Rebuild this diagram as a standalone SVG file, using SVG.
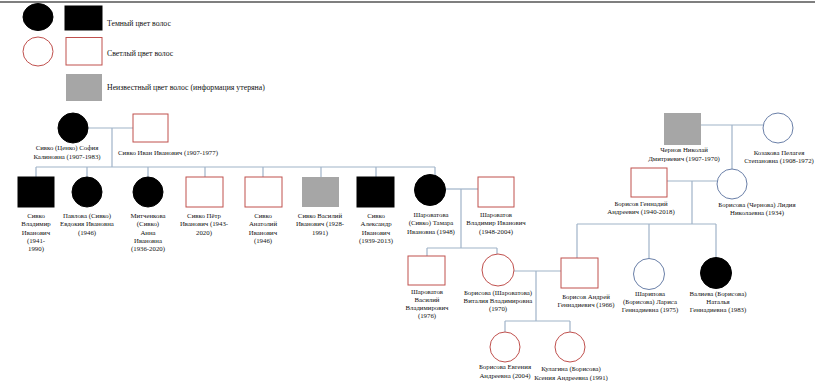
<svg xmlns="http://www.w3.org/2000/svg" width="815" height="381" viewBox="0 0 815 381">
<style>
.dark{fill:#000;stroke:#000;stroke-width:1}
.light{fill:#fff;stroke:#c0504d;stroke-width:1}
.blue{fill:#fff;stroke:#6a7fa8;stroke-width:1}
.unk{fill:#a6a6a6;stroke:none}
.conn line{stroke:#9fb3c8;stroke-width:1.2}
text{font-family:"Liberation Serif","Times New Roman",serif;font-size:6.8px;fill:#111;text-anchor:middle}
.leg{font-size:7.8px;text-anchor:start}
</style>
<rect width="815" height="381" fill="#fff"/>
<line x1="0" y1="2" x2="815" y2="2" stroke="#555" stroke-width="1.5"/>
<g id="legend">
<ellipse class="dark" cx="38" cy="17" rx="15" ry="13.5"/>
<rect class="dark" x="65" y="6" width="37" height="24"/>
<text class="leg" x="107" y="25.5">Темный цвет волос</text>
<ellipse class="light" cx="38" cy="51.5" rx="15" ry="14.5"/>
<rect class="light" x="66" y="37.5" width="36" height="27.5"/>
<text class="leg" x="107" y="56">Светлый цвет волос</text>
<rect class="unk" x="66" y="74" width="36" height="27"/>
<text class="leg" x="107" y="90">Неизвестный цвет волос (информация утеряна)</text>
</g>
<g class="conn" id="connectors">
<line x1="88" y1="128" x2="133" y2="128"/>
<line x1="112" y1="128" x2="112" y2="167"/>
<line x1="36" y1="167" x2="435" y2="167"/>
<line x1="36" y1="167" x2="36" y2="177"/>
<line x1="87" y1="167" x2="87" y2="177"/>
<line x1="148" y1="167" x2="148" y2="177"/>
<line x1="205" y1="167" x2="205" y2="177"/>
<line x1="263" y1="167" x2="263" y2="177"/>
<line x1="321" y1="167" x2="321" y2="177"/>
<line x1="376" y1="167" x2="376" y2="177"/>
<line x1="435" y1="167" x2="435" y2="175"/>
<line x1="446" y1="189" x2="478" y2="189"/>
<line x1="461" y1="189" x2="461" y2="248"/>
<line x1="427" y1="248" x2="497" y2="248"/>
<line x1="427" y1="248" x2="427" y2="256"/>
<line x1="497" y1="248" x2="497" y2="254"/>
<line x1="514" y1="271" x2="561" y2="271"/>
<line x1="536" y1="271" x2="536" y2="321"/>
<line x1="505" y1="321" x2="570" y2="321"/>
<line x1="505" y1="321" x2="505" y2="332"/>
<line x1="570" y1="321" x2="570" y2="332"/>
<line x1="701" y1="125" x2="763" y2="125"/>
<line x1="732" y1="125" x2="732" y2="169"/>
<line x1="667" y1="181" x2="717" y2="181"/>
<line x1="692" y1="181" x2="692" y2="224"/>
<line x1="577" y1="224" x2="716" y2="224"/>
<line x1="577" y1="224" x2="577" y2="258"/>
<line x1="649" y1="224" x2="649" y2="259"/>
<line x1="716" y1="224" x2="716" y2="258"/>
</g>
<g id="sofia"><circle class="dark" cx="73" cy="128" r="15"/><text x="67" y="150">Сивко (Ценко) София</text><text x="67" y="159">Калиновна (1907-1983)</text></g>
<g id="ivan"><rect class="light" x="133" y="114" width="35" height="28"/><text x="168" y="155">Сивко Иван Иванович (1907-1977)</text></g>
<g id="vladimir"><rect class="dark" x="18" y="177" width="36" height="30"/><text x="36" y="218">Сивко</text><text x="36" y="226.3">Владимир</text><text x="36" y="234.6">Иванович</text><text x="36" y="242.9">(1941-</text><text x="36" y="251.2">1990)</text></g>
<g id="evdokia"><circle class="dark" cx="87" cy="192" r="15"/><text x="87" y="218">Павлова (Сивко)</text><text x="87" y="226.3">Евдокия Ивановна</text><text x="87" y="234.6">(1946)</text></g>
<g id="anna"><circle class="dark" cx="148" cy="192" r="15"/><text x="148" y="218">Митченкова</text><text x="148" y="226.3">(Сивко)</text><text x="148" y="234.6">Анна</text><text x="148" y="242.9">Ивановна</text><text x="148" y="251.2">(1936-2020)</text></g>
<g id="petr"><rect class="light" x="186" y="177" width="37" height="30"/><text x="204" y="218">Сивко Пётр</text><text x="204" y="226.3">Иванович (1943-</text><text x="204" y="234.6">2020)</text></g>
<g id="anatoly"><rect class="light" x="245" y="177" width="37" height="30"/><text x="263" y="218">Сивко</text><text x="263" y="226.3">Анатолий</text><text x="263" y="234.6">Иванович</text><text x="263" y="242.9">(1946)</text></g>
<g id="vasily"><rect class="unk" x="302" y="177" width="37" height="30"/><text x="320" y="218">Сивко Василий</text><text x="320" y="226.3">Иванович (1928-</text><text x="320" y="234.6">1991)</text></g>
<g id="alexandr"><rect class="dark" x="357" y="177" width="37" height="30"/><text x="376" y="218">Сивко</text><text x="376" y="226.3">Александр</text><text x="376" y="234.6">Иванович</text><text x="376" y="242.9">(1939-2013)</text></g>
<g id="tamara"><circle class="dark" cx="430" cy="190" r="15.5"/><text x="431" y="217">Шароватова</text><text x="431" y="225.3">(Сивко) Тамара</text><text x="431" y="233.6">Ивановна (1948)</text></g>
<g id="vladimir-sh"><rect class="light" x="478" y="177" width="36" height="30"/><text x="496" y="217">Шароватов</text><text x="496" y="225.3">Владимир Иванович</text><text x="496" y="233.6">(1948-2004)</text></g>
<g id="vasily-sh"><rect class="light" x="408" y="256" width="37" height="29"/><text x="427" y="294">Шароватов</text><text x="427" y="302">Василий</text><text x="427" y="310">Владимирович</text><text x="427" y="318">(1976)</text></g>
<g id="vitalia"><circle class="light" cx="498" cy="270" r="16"/><text x="498" y="295">Борисова (Шароватова)</text><text x="498" y="303">Виталия Владимировна</text><text x="498" y="311">(1970)</text></g>
<g id="andrey"><rect class="light" x="561" y="258" width="37" height="30"/><text x="586" y="299">Борисов Андрей</text><text x="586" y="307">Геннадиевич (1966)</text></g>
<g id="evgenia"><circle class="light" cx="505" cy="347" r="15"/><text x="505" y="369">Борисова Евгения</text><text x="505" y="377.5">Андреевна (2004)</text></g>
<g id="ksenia"><circle class="light" cx="570" cy="347" r="15"/><text x="571" y="371">Кулагина (Борисова)</text><text x="571" y="379.5">Ксения Андреевна (1991)</text></g>
<g id="chernov"><rect class="unk" x="664" y="113" width="37" height="32"/><text x="684" y="152">Чернов Николай</text><text x="684" y="161">Дмитриевич (1907-1970)</text></g>
<g id="kozakova"><circle class="blue" cx="778" cy="128" r="15"/><text x="779" y="155">Козакова Пелагея</text><text x="779" y="163">Степановна (1908-1972)</text></g>
<g id="gennady"><rect class="light" x="631" y="168" width="36" height="29"/><text x="641" y="206">Борисов Геннадий</text><text x="641" y="214">Андреевич (1940-2018)</text></g>
<g id="lidia"><circle class="blue" cx="732" cy="184" r="15"/><text x="757" y="207">Борисова (Чернова) Лидия</text><text x="757" y="215">Николаевна (1934)</text></g>
<g id="larisa"><circle class="blue" cx="649" cy="274" r="15.5"/><text x="650" y="296">Шарипова</text><text x="650" y="304">(Борисова) Лариса</text><text x="650" y="312">Геннадиевна (1975)</text></g>
<g id="natalia"><circle class="dark" cx="716" cy="273" r="15.5"/><text x="718" y="296">Валиева (Борисова)</text><text x="718" y="304">Наталья</text><text x="718" y="312">Геннадиевна (1983)</text></g>
</svg>
